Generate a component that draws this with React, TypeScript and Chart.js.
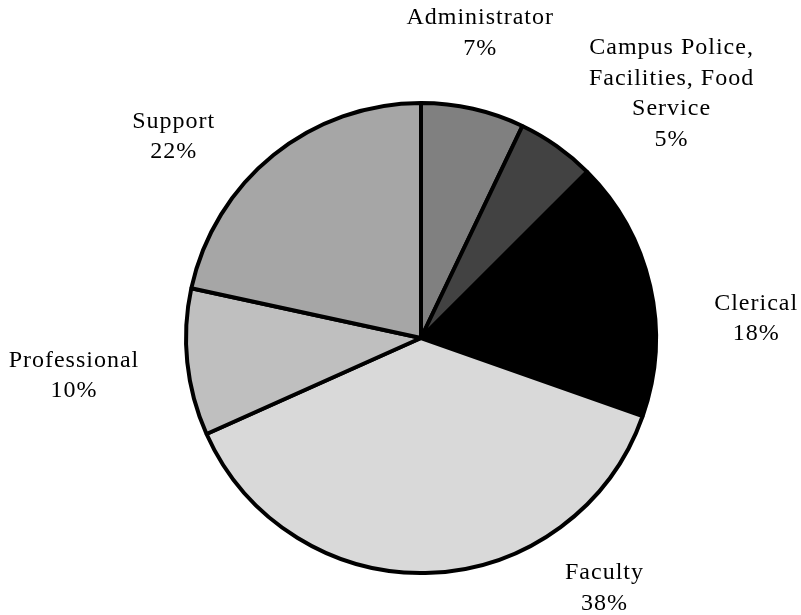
import React, { useEffect, useRef } from "react";
import { Chart, registerables } from "chart.js";

Chart.register(...registerables);

// ---- data ----
const categories: string[] = [
  "Administrator",
  "Campus Police,\nFacilities, Food\nService",
  "Clerical",
  "Faculty",
  "Professional",
  "Support",
];
const shares: number[] = [7.1, 5.4, 17.9, 37.9, 10.1, 21.6];
const sliceColors: string[] = ["#808080", "#424242", "#000000", "#d9d9d9", "#bfbfbf", "#a6a6a6"];

// ---- label layout (polar, relative to pie centre / radius) ----
const labelAngleDeg: number[] = [10.6, 41.4, 85.2, 142.8, 265.25, 310.3];
const labelDistFactor: number[] = [1.358, 1.609, 1.429, 1.288, 1.484, 1.383];

const FONT = '24px "Liberation Serif", "Times New Roman", serif';
const LINE_H = 30.5;

const labelPlugin = {
  id: "pieLabels",
  afterDraw(chart: any) {
    const ctx = chart.ctx as CanvasRenderingContext2D;
    const meta = chart.getDatasetMeta(0);
    const values = chart.data.datasets[0].data as number[];
    ctx.save();
    ctx.font = FONT;
    (ctx as any).letterSpacing = "1px";
    ctx.fillStyle = "#000";
    ctx.textAlign = "center";
    ctx.textBaseline = "alphabetic";
    meta.data.forEach((arc: any, i: number) => {
      const a = (labelAngleDeg[i] * Math.PI) / 180;
      const d = arc.outerRadius * labelDistFactor[i];
      const x = arc.x + Math.sin(a) * d;
      const y = arc.y - Math.cos(a) * d;
      const lines = String(chart.data.labels[i]).split("\n");
      lines.push(`${Math.round(values[i])}%`);
      lines.forEach((t, k) => ctx.fillText(t, x + 0.5, y + k * LINE_H));
    });
    ctx.restore();
  },
};

export default function App() {
  const ref = useRef<HTMLCanvasElement | null>(null);
  useEffect(() => {
    if (!ref.current) return;
    const chart = new Chart(ref.current, {
      type: "pie",
      data: {
        labels: categories,
        datasets: [
          {
            data: shares,
            backgroundColor: sliceColors,
            borderColor: "#000000",
            borderWidth: 4,
          },
        ],
      },
      options: {
        animation: false,
        responsive: true,
        maintainAspectRatio: false,
        radius: 235,
        layout: { padding: { left: 41, top: 61, right: 0, bottom: 0 } },
        plugins: {
          legend: { display: false },
          tooltip: { enabled: false },
        },
      } as any,
      plugins: [labelPlugin],
    });
    return () => chart.destroy();
  }, []);
  return (
    <div style={{ position: "absolute", left: 0, top: 0, width: 801, height: 615, background: "#fff" }}>
      <canvas ref={ref} />
    </div>
  );
}
